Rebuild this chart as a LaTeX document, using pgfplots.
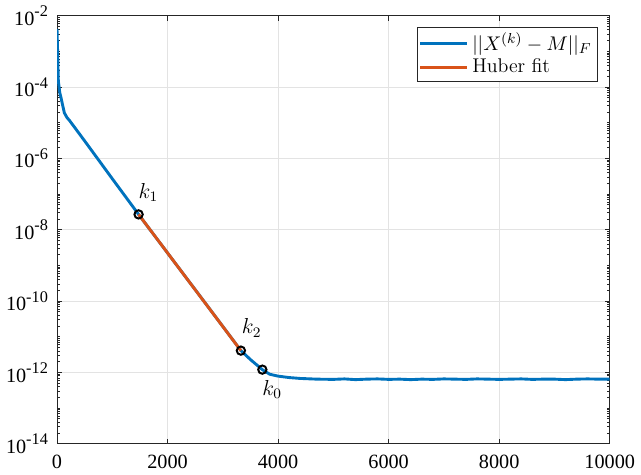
\documentclass[border=0pt]{standalone}
\usepackage{fontspec}
\setmainfont{Liberation Serif}
\usepackage{pgfplots}
\pgfplotsset{compat=1.18}
\definecolor{mblue}{HTML}{0072BD}
\definecolor{morange}{HTML}{D95319}
\definecolor{maxis}{HTML}{262626}
\definecolor{mgrid}{HTML}{E3E3E3}

% minor ticks 2..9 in every decade
\def\minorlist{1e-14}
\foreach \e in {-14,...,-3}{\foreach \m in {2,...,10}{\xdef\minorlist{\minorlist,\m e\e}}}

\begin{document}
\begin{tikzpicture}
\begin{axis}[
    scale only axis,
    width=306pt, height=237pt,
    ymode=log, log basis y=10,
    xmin=0, xmax=10000,
    ymin=1e-14, ymax=1e-2,
    xtick={0,2000,...,10000},
    ytick={1e-14,1e-12,1e-10,1e-8,1e-6,1e-4,1e-2},
    minor ytick/.expanded={\minorlist},
    xminorticks=false,
    scaled x ticks=false,
    /pgf/number format/1000 sep={},
    /pgf/number format/assume math mode=true,
    yticklabel={10\raisebox{0.42em}{\fontsize{9}{10}\selectfont\pgfmathparse{int(round(\tick))}\pgfmathresult}},
    tick label style={font=\fontsize{11.2}{13}\selectfont, text=black},
    xticklabel style={yshift=-2.5pt},
    yticklabel style={xshift=-1.5pt},
    major tick length=2.8pt, minor tick length=1.5pt,
    every tick/.style={maxis, line width=0.5pt},
    axis line style={maxis, line width=0.5pt},
    grid=major,
    major grid style={mgrid, line width=0.5pt},
    legend style={at={(0.978,0.974)}, anchor=north east, draw=maxis,
        line width=0.5pt, font=\fontsize{11}{12.5}\selectfont,
        inner sep=1pt, row sep=-1pt},
    legend cell align=left,
    legend image code/.code={\draw[#1] (0pt,0pt) -- (26pt,0pt);},
]
\addplot[mblue, line width=1.6pt] coordinates {
    (0,4.3e-3) (8,1.5e-3) (16,5e-4) (24,1.5e-4) (50,7e-5) (73,5e-5)
    (100,3.2e-5) (133,1.9e-5) (180,1.4e-5) (224,1.17e-5)
    (500,3.1e-6) (1000,2.7e-7) (1476,2.7e-8) (2000,2.24e-9)
    (2500,2.1e-10) (3000,1.95e-11) (3327,4.1e-12) (3500,2.3e-12)
    (3715,1.2e-12) (3850,8.9e-13) (4000,7.9e-13) (4200,7.2e-13)
    (4400,6.8e-13) (4700,6.5e-13) (5000,6.4e-13) (5200,6.6e-13)
    (5400,6.3e-13) (5600,6.5e-13) (5800,6.6e-13) (6000,6.4e-13)
    (6200,6.5e-13) (6400,6.3e-13) (6600,6.5e-13) (6800,6.4e-13)
    (7000,6.6e-13) (7200,6.5e-13) (7400,6.4e-13) (7600,6.6e-13)
    (7800,6.5e-13) (8000,6.4e-13) (8200,6.5e-13) (8400,6.6e-13)
    (8600,6.4e-13) (8800,6.5e-13) (9000,6.5e-13) (9200,6.3e-13)
    (9400,6.5e-13) (9600,6.6e-13) (9800,6.5e-13) (10000,6.5e-13)
};
\addlegendentry{$||X^{(k)}-M||_F$}
\addplot[morange, line width=1.6pt] coordinates {
    (1476,2.7e-8) (3327,4.1e-12)
};
\addlegendentry{{\fontfamily{lmr}\selectfont Huber fit}}
\addplot[only marks, mark=o, mark size=2.3pt, black, line width=1.1pt,
    forget plot] coordinates {
    (1476,2.7e-8) (3327,4.1e-12) (3715,1.2e-12)
};
\node[font=\fontsize{11.5}{13}\selectfont] at (axis cs:1476,2.7e-8) [xshift=5.5pt, yshift=12pt] {$k_1$};
\node[font=\fontsize{11.5}{13}\selectfont] at (axis cs:3327,4.1e-12) [xshift=6pt, yshift=12.5pt] {$k_2$};
\node[font=\fontsize{11.5}{13}\selectfont] at (axis cs:3715,1.2e-12) [xshift=5.5pt, yshift=-11pt] {$k_0$};
\end{axis}
\end{tikzpicture}
\end{document}
